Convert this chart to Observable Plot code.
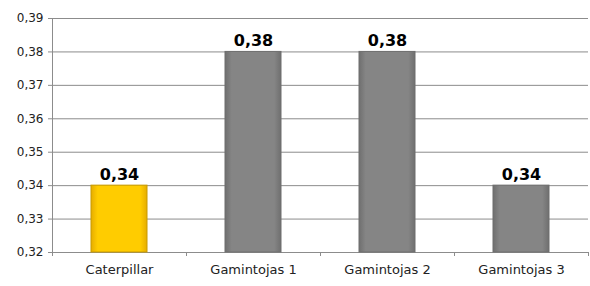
<!DOCTYPE html>
<html>
<head>
<meta charset="utf-8">
<script src="https://cdn.jsdelivr.net/npm/d3@7"></script>
<script src="https://cdn.jsdelivr.net/npm/@observablehq/plot@0.6"></script>
<style>
  html, body { margin: 0; padding: 0; background: #fff; }
  #chart { width: 590px; height: 286px; }
</style>
</head>
<body>
<div id="chart"></div>
<script>
const categories = ["Caterpillar", "Gamintojas 1", "Gamintojas 2", "Gamintojas 3"];
const values = [0.34, 0.38, 0.38, 0.34];
const barColors = ["url(#gradYellow)", "url(#gradGray)", "url(#gradGray)", "url(#gradGray)"];
const barStrokes = ["#c89a00", "#6e6e6e", "#6e6e6e", "#6e6e6e"];
const yTicks = [0.32, 0.33, 0.34, 0.35, 0.36, 0.37, 0.38, 0.39];

const data = categories.map((c, i) => ({i, c, v: values[i], fill: barColors[i], stroke: barStrokes[i]}));
const fmt = v => d3.format(".2f")(v).replace(".", ",");

const defs = () => {
  const g = d3.create("svg:defs");
  const mk = (id, edge, mid) => {
    const lg = g.append("linearGradient").attr("id", id).attr("x1", 0).attr("x2", 1).attr("y1", 0).attr("y2", 0);
    lg.append("stop").attr("offset", "0%").attr("stop-color", edge);
    lg.append("stop").attr("offset", "12%").attr("stop-color", mid);
    lg.append("stop").attr("offset", "88%").attr("stop-color", mid);
    lg.append("stop").attr("offset", "100%").attr("stop-color", edge);
  };
  mk("gradYellow", "#e6ad00", "#ffcc00");
  mk("gradGray", "#6f6f6f", "#858585");
  return g.node();
};

const chart = Plot.plot({
  width: 590,
  height: 286,
  marginLeft: 52,
  marginRight: 2,
  marginTop: 18,
  marginBottom: 34,
  style: {fontFamily: "DejaVu Sans, sans-serif", background: "#fff", overflow: "visible"},
  x: {type: "linear", domain: [0, categories.length], axis: null},
  y: {domain: [0.32, 0.39], axis: null},
  marks: [
    defs,
    Plot.ruleY(yTicks, {stroke: "#8c8c8c", strokeWidth: 1}),
    Plot.axisY({ticks: yTicks, tickFormat: fmt, tickSize: 4, tickPadding: 5, stroke: "#8c8c8c", fontSize: 12, fill: "#222", color: "#222", label: null}),
    Plot.ruleX([0], {stroke: "#8c8c8c", strokeWidth: 1}),
    Plot.axisX({ticks: d3.range(categories.length + 1), tickFormat: () => "", tickSize: 4, stroke: "#8c8c8c", label: null}),
    Plot.axisX({ticks: categories.map((c, i) => i + 0.5), tickFormat: t => categories[Math.floor(t)], tickSize: 0, tickPadding: 12, fontSize: 13, fill: "#222", color: "#222", label: null}),
    Plot.rectY(data, {x1: d => d.i, x2: d => d.i + 1, y1: 0.32, y2: "v", insetLeft: 39, insetRight: 39, fill: "fill", stroke: "stroke", strokeWidth: 1}),
    Plot.text(data, {x: d => d.i + 0.5, y: "v", text: d => fmt(d.v), dy: -11, fontSize: 16, fontWeight: "bold", fill: "#000"})
  ]
});
document.getElementById("chart").appendChild(chart);
</script>
</body>
</html>
